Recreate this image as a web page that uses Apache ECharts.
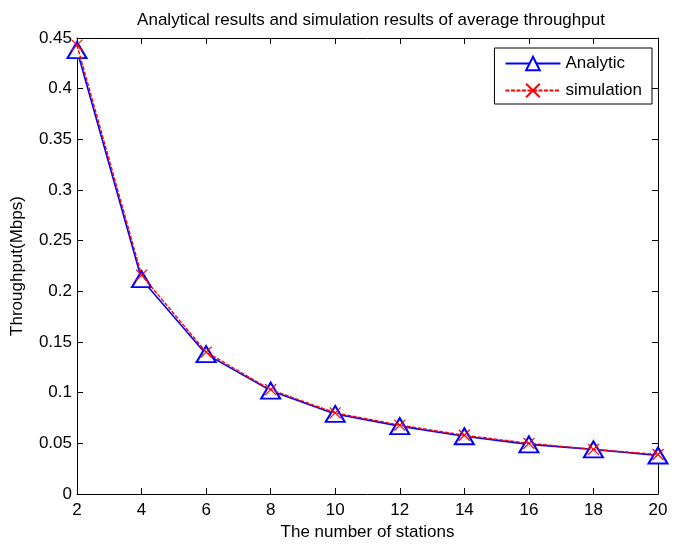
<!DOCTYPE html>
<html><head><meta charset="utf-8">
<script src="https://cdn.jsdelivr.net/npm/echarts@6/dist/echarts.min.js"></script>
<style>html,body{margin:0;padding:0;background:#fff}#c{width:685px;height:554px}</style>
</head><body><div id="c"></div>
<script>
const stations = [2, 4, 6, 8, 10, 12, 14, 16, 18, 20];
const analytic = [0.438, 0.212, 0.138, 0.102, 0.079, 0.067, 0.057, 0.049, 0.044, 0.038];
const simulation = [0.443, 0.216, 0.140, 0.103, 0.080, 0.068, 0.058, 0.050, 0.044, 0.039];

const font = 'Liberation Sans, Arial, sans-serif';
const chart = echarts.init(document.getElementById('c'));
const axisBase = {
  axisLine: {show: true, onZero: false, lineStyle: {color: '#000', width: 1}},
  axisTick: {show: true, inside: true, length: 6, lineStyle: {color: '#000'}},
  splitLine: {show: false}
};
chart.setOption({
  animation: false,
  backgroundColor: '#fff',
  title: {
    text: 'Analytical results and simulation results of average throughput',
    left: 366, top: 7, textAlign: 'center',
    textStyle: {fontFamily: font, fontSize: 17, fontWeight: 'normal', color: '#000'}
  },
  grid: {left: 77, right: 27, top: 38, bottom: 60},
  legend: {
    orient: 'vertical', right: 33, top: 48,
    backgroundColor: '#fff', borderColor: '#000', borderWidth: 1,
    padding: [7, 10, 5, 10], itemGap: 10, itemWidth: 55, itemHeight: 17,
    textStyle: {fontFamily: font, fontSize: 17, color: '#000'},
    data: ['Analytic', 'simulation']
  },
  xAxis: [
    Object.assign({type: 'value', min: 2, max: 20, interval: 2, position: 'bottom',
      name: 'The number of stations', nameLocation: 'middle', nameGap: 28,
      nameTextStyle: {fontFamily: font, fontSize: 17, color: '#000'},
      axisLabel: {fontFamily: font, fontSize: 17, color: '#000', margin: 8}}, axisBase),
    Object.assign({type: 'value', min: 2, max: 20, interval: 2, position: 'top',
      axisLabel: {show: false}}, axisBase)
  ],
  yAxis: [
    Object.assign({type: 'value', min: 0, max: 0.45, interval: 0.05, position: 'left',
      name: 'Throughput(Mbps)', nameLocation: 'middle', nameGap: 51,
      nameTextStyle: {fontFamily: font, fontSize: 17, color: '#000'},
      axisLabel: {fontFamily: font, fontSize: 17, color: '#000', margin: 5}}, axisBase),
    Object.assign({type: 'value', min: 0, max: 0.45, interval: 0.05, position: 'right',
      axisLabel: {show: false}}, axisBase)
  ],
  series: [
    {
      name: 'Analytic', type: 'line',
      data: stations.map((s, i) => [s, analytic[i]]),
      symbol: 'emptyTriangle', symbolSize: [19, 16],
      lineStyle: {color: '#0000ff', width: 1.6},
      itemStyle: {color: '#0000ff', borderColor: '#0000ff', borderWidth: 1.3},
      z: 2
    },
    {
      name: 'simulation', type: 'line',
      data: stations.map((s, i) => [s, simulation[i]]),
      symbol: 'path://M0,0L10,10M10,0L0,10', symbolSize: 11,
      lineStyle: {color: '#ff0000', width: 1.4, type: [4, 1.5]},
      itemStyle: {color: '#ff0000', borderColor: '#ff0000', borderWidth: 1.2},
      z: 3
    }
  ]
});
</script></body></html>
